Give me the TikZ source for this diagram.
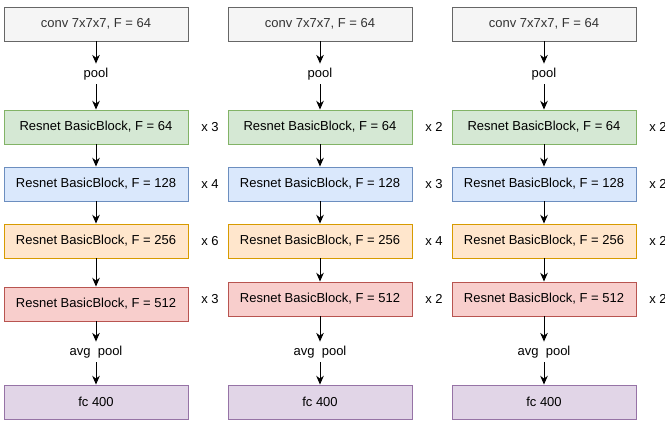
\documentclass[tikz,border=0pt]{standalone}
\usepackage{fontspec}
\setmainfont{Liberation Sans}
\usetikzlibrary{arrows.meta}

\definecolor{convfill}{HTML}{F5F5F5}
\definecolor{convline}{HTML}{666666}
\definecolor{greenfill}{HTML}{D5E8D4}
\definecolor{greenline}{HTML}{82B366}
\definecolor{bluefill}{HTML}{DAE8FC}
\definecolor{blueline}{HTML}{6C8EBF}
\definecolor{orangefill}{HTML}{FFE6CC}
\definecolor{orangeline}{HTML}{D79B00}
\definecolor{redfill}{HTML}{F8CECC}
\definecolor{redline}{HTML}{B85450}
\definecolor{purplefill}{HTML}{E1D5E7}
\definecolor{purpleline}{HTML}{9673A6}

\begin{document}
\begin{tikzpicture}[x=0.03cm, y=-0.03cm, font=\fontsize{11.1}{13}\selectfont,
    block/.style={draw, line width=0.8pt, minimum width=5.52cm, minimum height=1.02cm, inner sep=0pt},
    convbox/.style={block, fill=convfill, draw=convline, text=black!80},
    greenbox/.style={block, fill=greenfill, draw=greenline},
    bluebox/.style={block, fill=bluefill, draw=blueline},
    orangebox/.style={block, fill=orangefill, draw=orangeline},
    redbox/.style={block, fill=redfill, draw=redline},
    fcbox/.style={block, fill=purplefill, draw=purpleline},
    label/.style={inner sep=3.5pt},
    flow/.style={-{Stealth[length=7.5pt, width=6.5pt]}, line width=0.8pt}]
    \useasboundingbox (0,0) rectangle (665,421);
    \clip (0,0) rectangle (665,421);
    % one column per network, repeats of each stage and height of the last block
    \foreach \c/\na/\nb/\nc/\nd/\ry in {0/3/4/6/3/304, 1/2/3/4/2/299, 2/2/2/2/2/299}{
        \pgfmathsetmacro{\cx}{96+224*\c}
        \pgfmathsetmacro{\rx}{\cx+114}
        % stem
        \node[convbox] (conv\c) at (\cx,24) {conv 7x7x7, F = 64};
        \node[label] (pool\c) at (\cx,74) {pool};
        % residual stages
        \node[greenbox] (stagea\c) at (\cx,127) {Resnet BasicBlock, F = 64};
        \node[bluebox] (stageb\c) at (\cx,184) {Resnet BasicBlock, F = 128};
        \node[orangebox] (stagec\c) at (\cx,241) {Resnet BasicBlock, F = 256};
        \node[redbox] (staged\c) at (\cx,\ry) {Resnet BasicBlock, F = 512};
        % head
        \node[label] (avg\c) at (\cx,352) {avg\ \ pool};
        \node[fcbox] (fc\c) at (\cx,402) {fc 400};
        % repeats
        \node (repa\c) at (\rx,127) {x \na};
        \node (repb\c) at (\rx,184) {x \nb};
        \node (repc\c) at (\rx,241) {x \nc};
        \node (repd\c) at (\rx,299) {x \nd};
        \draw[flow] (conv\c) -- (pool\c);
        \draw[flow] (pool\c) -- (stagea\c);
        \draw[flow] (stagea\c) -- (stageb\c);
        \draw[flow] (stageb\c) -- (stagec\c);
        \draw[flow] (stagec\c) -- (staged\c);
        \draw[flow] (staged\c) -- (avg\c);
        \draw[flow] (avg\c) -- (fc\c);
    }
\end{tikzpicture}
\end{document}
